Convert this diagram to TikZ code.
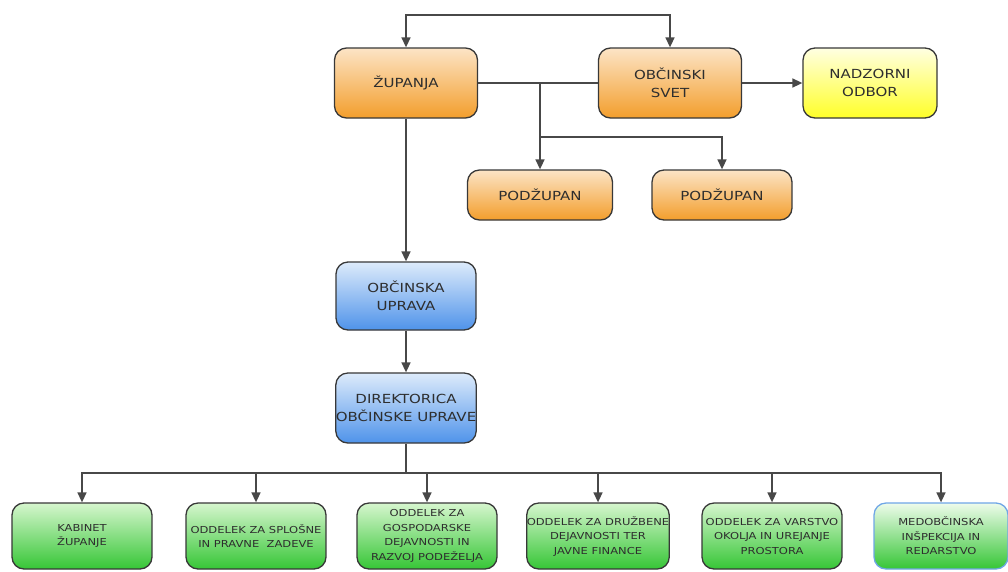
\documentclass[tikz,border=0pt]{standalone}
\usepackage{fontspec}
\setmainfont{DejaVu Sans}[FakeStretch=1.2]
\usetikzlibrary{arrows.meta}
\definecolor{edge}{HTML}{383838}
\definecolor{wire}{HTML}{484848}
\definecolor{ink}{HTML}{2E2E2E}
\definecolor{orangetop}{HTML}{FCE4C6}
\definecolor{orangebot}{HTML}{F39E2C}
\definecolor{bluetop}{HTML}{DDEBFB}
\definecolor{bluebot}{HTML}{4F93EA}
\definecolor{greentop}{HTML}{D6F6CE}
\definecolor{greenbot}{HTML}{36C636}
\definecolor{yellowtop}{HTML}{FFFFE2}
\definecolor{yellowbot}{HTML}{FFFF28}
\definecolor{bluerim}{HTML}{6FA6E6}
\begin{document}
\begin{tikzpicture}[x=1pt,y=-1pt,
    box/.style={draw=edge,line width=1.3pt,rounded corners=12pt,align=center,
        text=ink,inner sep=0pt,minimum width=143pt,minimum height=70pt,
        font=\fontsize{12.5}{18}\selectfont},
    orangebox/.style={box,top color=orangetop,bottom color=orangebot},
    bluebox/.style={box,top color=bluetop,bottom color=bluebot},
    yellowbox/.style={box,top color=yellowtop,bottom color=yellowbot},
    deptbox/.style={box,top color=greentop,bottom color=greenbot,
        minimum width=140pt,minimum height=66pt,
        font=\fontsize{9.6}{14.5}\selectfont},
    tip/.tip={Triangle[length=10pt,width=9pt]},
    link/.style={draw=wire,line width=1.5pt},
    arr/.style={link,-tip}]
        \useasboundingbox (0,0) rectangle (1008,571);
        % top row
        \node[orangebox] (zup) at (406,83) {ŽUPANJA};
        \node[orangebox] (svet) at (670,83) {OBČINSKI\\SVET};
        \node[yellowbox,minimum width=134pt] (nadz) at (870,83) {NADZORNI\\ODBOR};
        \node[orangebox,minimum width=145pt,minimum height=50pt] (pod1) at (540,195) {PODŽUPAN};
        \node[orangebox,minimum width=140pt,minimum height=50pt] (pod2) at (722,195) {PODŽUPAN};
        % administration
        \node[bluebox,minimum width=140pt,minimum height=68pt] (uprava) at (406,296) {OBČINSKA\\UPRAVA};
        \node[bluebox,minimum width=140pt] (dir) at (406,408) {DIREKTORICA\\OBČINSKE UPRAVE};
        % departments
        \node[deptbox] (kab) at (82,536) {KABINET\\ŽUPANJE};
        \node[deptbox] (spl) at (256,536) {ODDELEK ZA SPLOŠNE\\IN PRAVNE\ \ ZADEVE};
        \node[deptbox] (gos) at (427,536) {ODDELEK ZA\\GOSPODARSKE\\DEJAVNOSTI IN\\RAZVOJ PODEŽELJA};
        \node[deptbox,minimum width=137pt] (dru) at (598,536) {ODDELEK ZA DRUŽBENE\\DEJAVNOSTI TER\\JAVNE FINANCE};
        \node[deptbox] (oko) at (772,536) {ODDELEK ZA VARSTVO\\OKOLJA IN UREJANJE\\PROSTORA};
        \node[deptbox,draw=bluerim,top color=greentop!40!white,minimum width=134pt] (ins) at (941,536) {MEDOBČINSKA\\INŠPEKCIJA IN\\REDARSTVO};
        % connectors
        \coordinate (roof) at (540,15);
        \coordinate (split) at (540,83);
        \coordinate (fork) at (540,137);
        \coordinate (bus) at (406,473);
        \draw[link,tip-tip] (zup.north) |- (roof) -| (svet.north);
        \draw[link] (zup.east) -- (svet.west);
        \draw[arr] (svet.east) -- (nadz.west);
        \draw[arr] (split) -- (pod1.north);
        \draw[arr] (fork) -| (pod2.north);
        \draw[arr] (zup.south) -- (uprava.north);
        \draw[arr] (uprava.south) -- (dir.north);
        \draw[link] (dir.south) -- (bus);
        \foreach \n in {kab,spl,gos,dru,oko,ins}
            \draw[arr] (bus) -| (\n.north);
    \end{tikzpicture}
\end{document}
